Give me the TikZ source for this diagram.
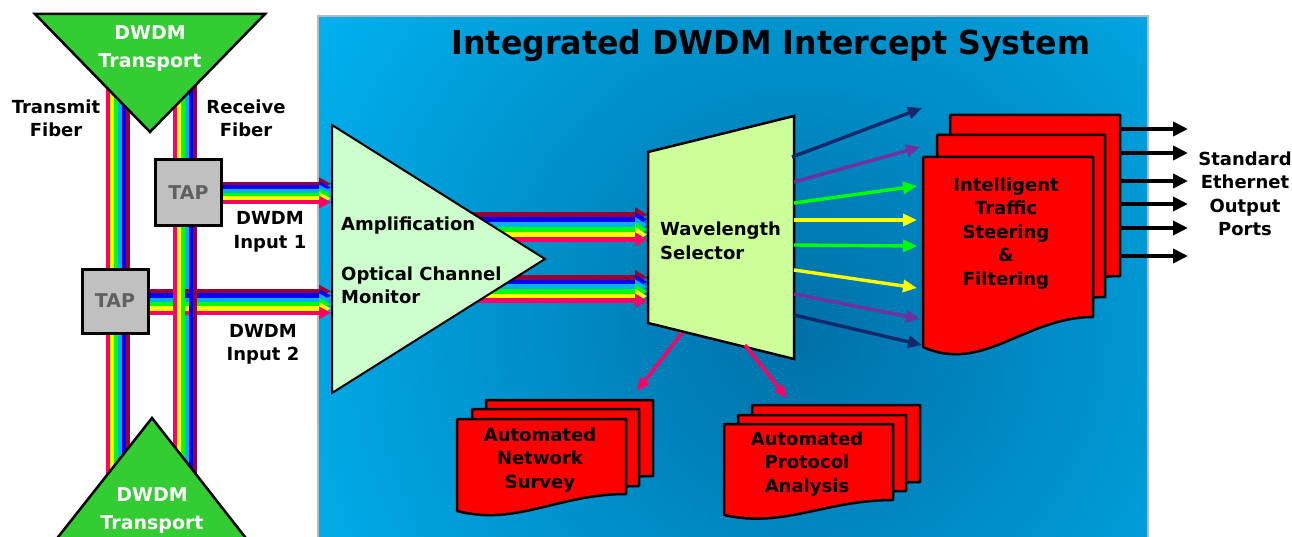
\documentclass[tikz,border=0pt]{standalone}
\usepackage{fontspec}
\setmainfont{DejaVu Sans}
\usepackage{graphicx}
\usetikzlibrary{arrows.meta}
\definecolor{fpink}{HTML}{FF0066}
\definecolor{fyellow}{HTML}{FFFF00}
\definecolor{fgreen}{HTML}{00FF00}
\definecolor{fcyan}{HTML}{00B0F0}
\definecolor{fblue}{HTML}{0000FF}
\definecolor{fmaroon}{HTML}{990033}
\definecolor{wnavy}{HTML}{14286E}
\definecolor{wpurp}{HTML}{7030A0}
\definecolor{bgin}{RGB}{0,112,168}
\definecolor{bgout}{RGB}{0,180,242}
\definecolor{tgreen}{HTML}{33CC33}
\definecolor{ampfill}{HTML}{CCFFCC}
\definecolor{selfill}{HTML}{CCFF99}
\definecolor{tapfill}{HTML}{C0C0C0}
\definecolor{taptext}{HTML}{606060}
\newcommand\docpath[5]{\filldraw[docst] (#1,#2) -- (#3,#2) -- (#3,#4) .. controls ({#1+0.6*(#3-#1)},#4) and ({#1+0.35*(#3-#1)},{#5+0.9*(#5-#4)}) .. (#1,#5) -- cycle;}
\begin{document}
\begin{tikzpicture}[x=1pt,y=-1pt,
  lbl/.style={font=\fontsize{18}{23.5}\selectfont\bfseries,align=center,inner sep=0pt},
  lbll/.style={lbl,align=left,anchor=west},
  wlbl/.style={font=\fontsize{19}{28}\selectfont\bfseries,align=center,inner sep=0pt,text=white},
  docst/.style={fill=red,draw=black,line width=2.5,line join=round},
  tapbox/.style={draw=black,fill=tapfill,line width=3,inner sep=0pt,font=\fontsize{19}{23}\selectfont\bfseries,text=taptext},
  warr/.style={line width=3.4,-{Triangle[length=14,width=12]}},
  parr/.style={fpink,line width=3.5,-{Triangle[length=13,width=11]}},
  barr/.style={black,line width=4,-{Triangle[length=15,width=14]}},
  tri/.style={draw=black,line width=2.5,line join=miter}]
\useasboundingbox (0,0) rectangle (1292,537);
\clip (0,0) rectangle (1292,537);
% background box
\begin{scope}
\clip (318,16) rectangle (1148,560);
\fill[bgout] (318,16) rectangle (1148,560);
\shade[inner color=bgin,outer color=bgout] (800,330) circle (600);
\end{scope}
\draw[gray!55,line width=2] (318,560) -- (318,16) -- (1148,16) -- (1148,560);
% vertical fibers
\foreach \c [count=\i] in {fpink,fyellow,fgreen,fcyan,fblue,fmaroon} {
  \draw[\c,line width=4.2] ({104+4*\i},60) -- ({104+4*\i},520);
  \draw[\c,line width=4.2] ({171+4*\i},60) -- ({171+4*\i},520);
}
% input bundles
\coordinate (in1end) at (331,193);
\coordinate (in2end) at (331,302);
\foreach \c [count=\i] in {fmaroon,fblue,fcyan,fgreen,fyellow,fpink} {
  \draw[\c,line width=3.9,-{Triangle[length=12,width=12]}] (205,{180.1+3.67*\i}) -- (in1end |- 0,{180.1+3.67*\i});
  \draw[\c,line width=4.5,-{Triangle[length=12,width=12]}] (135,{286.9+4.33*\i}) -- (in2end |- 0,{286.9+4.33*\i});
}
\foreach \c/\i in {fpink/1,fyellow/2,fgreen/3,fblue/5,fmaroon/6}
  \draw[\c,line width=4.2] ({171+4*\i},285) -- ({171+4*\i},319);
% taps
\node[tapbox,minimum width=66,minimum height=66] (tap1) at (188.5,193) {TAP};
\node[tapbox,minimum width=66,minimum height=64] (tap2) at (115,301) {TAP};
% transport triangles
\filldraw[tri,fill=tgreen] (35,14) -- (265,14) -- (150,132) -- cycle;
\filldraw[tri,fill=tgreen] (152,418) -- (263,560) -- (40,560) -- cycle;
% amplifier output bundles
\foreach \c [count=\i] in {fmaroon,fblue,fcyan,fgreen,fyellow,fpink} {
  \draw[\c,line width=5.2,-{Triangle[length=12,width=14]}] (470,{209.5+5*\i}) -- (647,{209.5+5*\i});
  \draw[\c,line width=4.8,-{Triangle[length=12,width=14]}] (470,{272.6+4.7*\i}) -- (647,{272.6+4.7*\i});
}
% amplifier
\filldraw[draw=black,line width=2,fill=ampfill,line join=miter] (332,125) -- (545,259) -- (332,393) -- cycle;
% wavelength selector
\filldraw[draw=black,line width=2.5,fill=selfill,line join=miter] (648,152) -- (794,116) -- (794,359) -- (648,323) -- cycle;
% wavelength outputs
\draw[warr,wnavy] (792,157) -- (922,108);
\draw[warr,wpurp] (794,182) -- (920,147);
\draw[warr,fgreen] (794,203) -- (917,186);
\draw[warr,fyellow] (794,220) -- (917,220);
\draw[warr,fgreen] (794,245) -- (917,246);
\draw[warr,fyellow] (794,270) -- (917,288);
\draw[warr,wpurp] (794,294) -- (920,319);
\draw[warr,wnavy] (794,315) -- (922,345);
% pink down arrows
\draw[parr] (682,333) -- (637,391);
\draw[parr] (745,345) -- (787,398);
% document stacks
\docpath{950}{115}{1120}{276}{306}
\docpath{937}{135}{1105}{297}{327}
\docpath{923}{157}{1093}{317}{347}
\docpath{486}{400}{653}{476}{493}
\docpath{472}{409}{639}{486}{503}
\docpath{457}{419}{626}{494}{511}
\docpath{752}{405}{920}{482}{497}
\docpath{738}{415}{906}{491}{506}
\docpath{724}{424}{893}{500}{515}
% ethernet outputs
\foreach \y in {129,153,181,204,228,256}
  \draw[barr] (1120,\y) -- (1188,\y);
% texts
\node[font=\fontsize{33}{40}\selectfont\bfseries,inner sep=0pt] (title) at (771,46) {\scalebox{0.96}[1]{Integrated DWDM Intercept System}};
\node[wlbl] (ttop) at (150,49) {DWDM\\Transport};
\node[wlbl] (tbot) at (152,511) {DWDM\\Transport};
\node[lbl] (txf) at (56,118.5) {Transmit\\Fiber};
\node[lbl] (rxf) at (246,118.5) {Receive\\Fiber};
\node[lbl] (in1) at (270,232) {DWDM\\Input 1};
\node[lbl] (in2) at (263,344.5) {DWDM\\Input 2};
\node[lbll] (amp) at (341,226) {Amplification};
\node[lbll] (ocm) at (341,285.5) {Optical Channel\\Monitor};
\node[lbll] (sel) at (660,241) {Wavelength\\Selector};
\node[lbl] (its) at (1006,233.5) {Intelligent\\Traffic\\Steering\\\&\\Filtering};
\node[lbl] (seo) at (1245,194) {Standard\\Ethernet\\Output\\Ports};
\node[lbl] (ans) at (540,460) {Automated\\Network\\Survey};
\node[lbl] (apa) at (807,464) {Automated\\Protocol\\Analysis};
\end{tikzpicture}
\end{document}
